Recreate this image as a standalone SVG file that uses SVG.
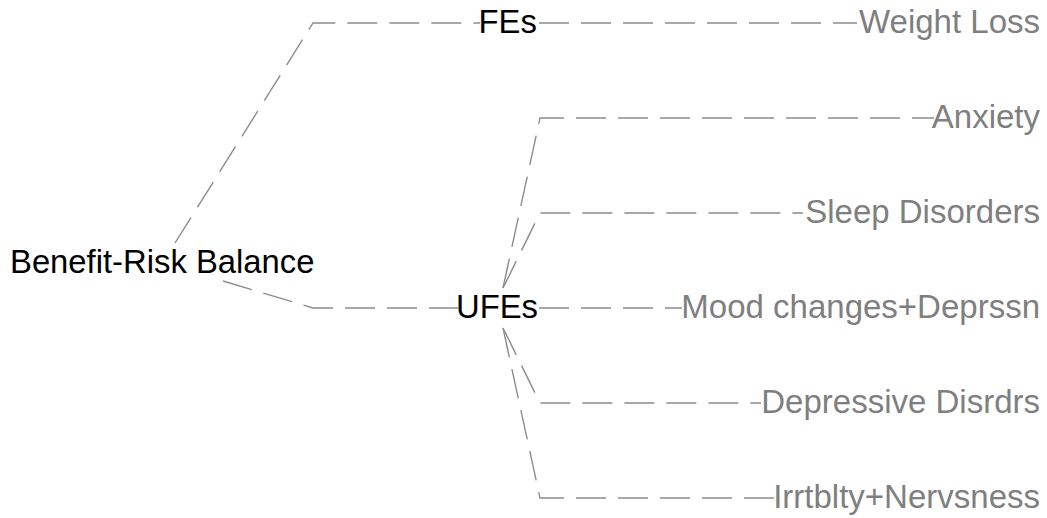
<svg xmlns="http://www.w3.org/2000/svg" width="1047" height="518" viewBox="0 0 1047 518">
<style>
.link{fill:none;stroke:#8c8c8c;stroke-width:1.4;stroke-dasharray:30 12}
.root{font-family:"Liberation Sans",Arial,sans-serif;font-size:32.8px;fill:#000}
.mid{font-family:"Liberation Sans",Arial,sans-serif;font-size:32.8px;fill:#000}
.leaf{font-family:"Liberation Sans",Arial,sans-serif;font-size:33px;fill:#7f7f7f;text-anchor:end}
</style>
<rect width="1047" height="518" fill="#fff"/>
<g id="connectors">
<path class="link" d="M175,243 L313,23 L480,23"/>
<path class="link" d="M223,281 L313,308 L458,308"/>
<path class="link" d="M539,23 L857,23"/>
<path class="link" d="M503,288 L540,118 L934,118"/>
<path class="link" d="M503,288 L540,213 L803,213"/>
<path class="link" d="M539,308 L682,308"/>
<path class="link" d="M503,328 L540,403 L761,403"/>
<path class="link" d="M503,328 L540,498 L778,498"/>
</g>
<g id="node-root"><text class="root" x="10" y="273">Benefit-Risk Balance</text></g>
<g id="node-fes"><text class="mid" x="478.5" y="33">FEs</text></g>
<g id="node-ufes"><text class="mid" x="456" y="318">UFEs</text></g>
<g id="node-weight-loss"><text class="leaf" x="1040" y="33">Weight Loss</text></g>
<g id="node-anxiety"><text class="leaf" x="1040" y="128">Anxiety</text></g>
<g id="node-sleep"><text class="leaf" x="1040" y="223">Sleep Disorders</text></g>
<g id="node-mood"><text class="leaf" x="1040" y="318">Mood changes+Deprssn</text></g>
<g id="node-depressive"><text class="leaf" x="1040" y="413">Depressive Disrdrs</text></g>
<g id="node-irritability"><text class="leaf" x="1040" y="508">Irrtblty+Nervsness</text></g>
</svg>
